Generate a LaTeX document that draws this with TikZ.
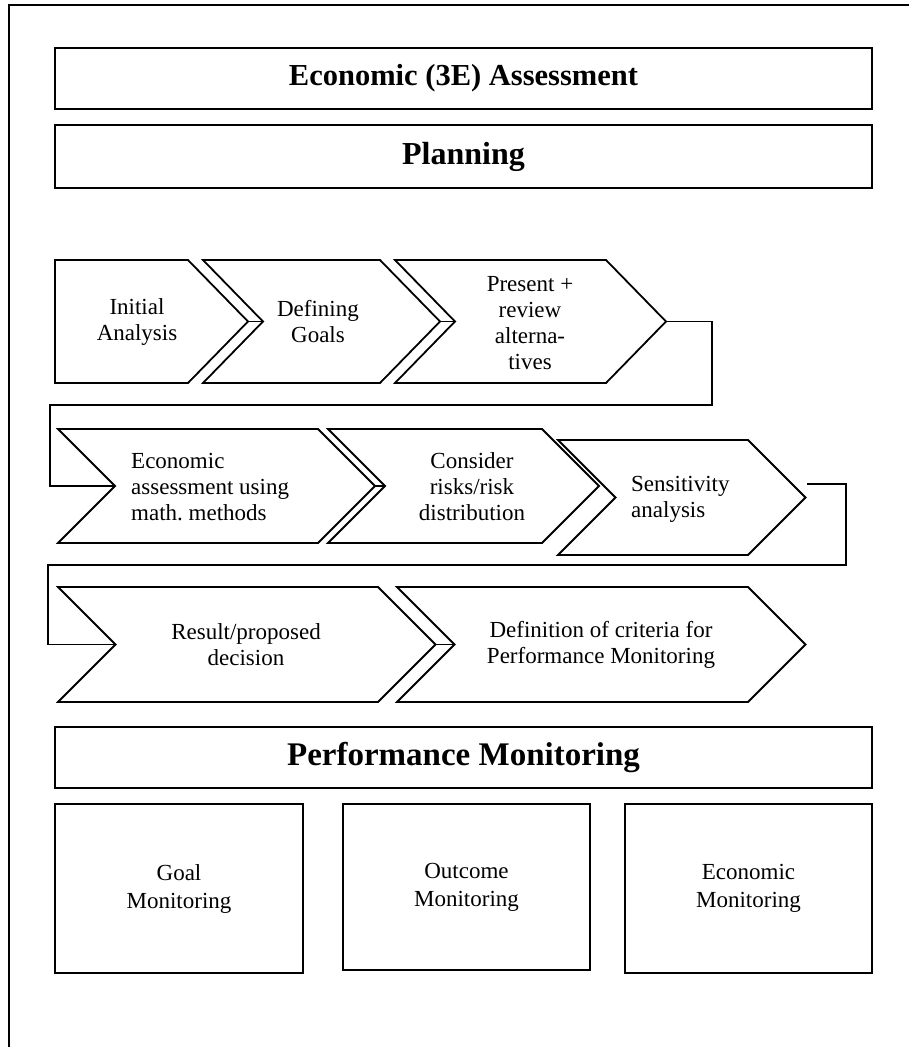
\documentclass[tikz,border=0pt]{standalone}
\usepackage{fontspec}
\setmainfont{Liberation Serif}
\frenchspacing
\begin{document}
\begin{tikzpicture}[x=1pt,y=-1pt,
  chev/.style={draw=black,line width=1.8pt,line join=miter,fill=white},
  conn/.style={draw=black,line width=1.8pt},
  hbox/.style={draw=black,line width=2.2pt,inner sep=0pt,font=\fontsize{30.5}{34}\selectfont\bfseries},
  mbox/.style={draw=black,line width=2pt,inner sep=0pt,align=center,font=\fontsize{23}{28}\selectfont},
  ctext/.style={align=center,inner sep=0pt,font=\fontsize{23}{26}\selectfont},
  ltext/.style={align=left,anchor=west,inner sep=0pt,font=\fontsize{23}{26}\selectfont}]
\useasboundingbox (0,0) rectangle (909,1047);
% outer frame (cut by the picture's right and bottom edges)
\coordinate (fbl) at (9,1047);
\coordinate (ftl) at (9,5);
\coordinate (ftr) at (909,5);
\draw[line width=2pt] (fbl) -- (ftl) -- (ftr);

% header boxes
\node[hbox,minimum width=817pt,minimum height=61pt] (title) at (463.5,78.5) {Economic (3E) Assessment};
\node[hbox,minimum width=817pt,minimum height=63pt,font=\fontsize{32}{36}\selectfont\bfseries] (plan) at (463.5,156.5) {Planning};

% row 1
\draw[chev] (55,260) -- (188,260) -- (248,321.5) -- (188,383) -- (55,383) -- cycle;
\coordinate (c1tip) at (248,321.5);
\draw[chev] (203,260) -- (380,260) -- (440,321.5) -- (380,383) -- (203,383) -- (263,321.5) -- cycle;
\coordinate (c2notch) at (263,321.5);
\coordinate (c2tip) at (440,321.5);
\draw[chev] (395,260) -- (606,260) -- (666,321.5) -- (606,383) -- (395,383) -- (455,321.5) -- cycle;
\coordinate (c3notch) at (455,321.5);
\coordinate (c3tip) at (666,321.5);
\node[ctext] (t1) at (137,322) {Initial\\Analysis};
\node[ctext] (t2) at (318,322) {Defining\\Goals};
\node[ctext] (t3) at (530,323) {Present +\\review\\alterna-\\tives};

% row 2
\draw[chev] (58,429) -- (318,429) -- (375,486) -- (318,543) -- (58,543) -- (115,486) -- cycle;
\coordinate (c4notch) at (115,486);
\coordinate (c4tip) at (375,486);
\draw[chev] (328,429) -- (542,429) -- (599,486) -- (542,543) -- (328,543) -- (385,486) -- cycle;
\coordinate (c5notch) at (385,486);
\draw[chev] (558,440) -- (748,440) -- (805.5,497.5) -- (748,555) -- (558,555) -- (615.5,497.5) -- cycle;
\coordinate (c6out) at (807,484);
\node[ltext] (t4) at (131,487) {Economic\\assessment using\\math. methods};
\node[ctext] (t5) at (472,487) {Consider\\risks/risk\\distribution};
\node[ltext] (t6) at (631,499) {Sensitivity\\analysis};

% row 3
\draw[chev] (58,587) -- (378,587) -- (435.5,644.5) -- (378,702) -- (58,702) -- (115.5,644.5) -- cycle;
\coordinate (c7notch) at (115.5,644.5);
\coordinate (c7tip) at (435.5,644.5);
\draw[chev] (397,587) -- (748,587) -- (805.5,644.5) -- (748,702) -- (397,702) -- (454.5,644.5) -- cycle;
\coordinate (c8notch) at (454.5,644.5);
\node[ctext] (t7) at (246,645) {Result/proposed\\decision};
\node[ctext] (t8) at (601,645) {Definition of criteria for\\Performance Monitoring};

% connectors
\coordinate (k1) at (712,405);
\coordinate (k2) at (50,405);
\coordinate (k3) at (846,565);
\coordinate (k4) at (48,565);
\draw[conn] (c1tip) -- (c2notch);
\draw[conn] (c2tip) -- (c3notch);
\draw[conn] (c3tip) -| (k1) -- (k2) |- (c4notch);
\draw[conn] (c4tip) -- (c5notch);
\draw[conn] (c6out) -| (k3) -- (k4) |- (c7notch);
\draw[conn] (c7tip) -- (c8notch);

% performance monitoring
\node[hbox,minimum width=817pt,minimum height=61pt,font=\fontsize{33}{37}\selectfont\bfseries] (perf) at (463.5,757.5) {Performance Monitoring};
\node[mbox,minimum width=248pt,minimum height=169pt] (goal) at (179,888.5) {Goal\\Monitoring};
\node[mbox,minimum width=247pt,minimum height=166pt] (outc) at (466.5,887) {Outcome\\Monitoring};
\node[mbox,minimum width=247pt,minimum height=169pt] (econ) at (748.5,888.5) {Economic\\Monitoring};
\end{tikzpicture}
\end{document}
